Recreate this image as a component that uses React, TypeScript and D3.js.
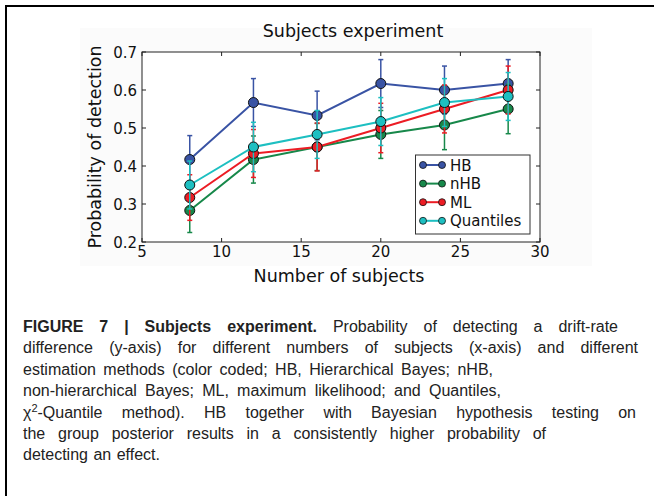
import { useLayoutEffect, useRef } from "react";
import * as d3 from "d3";

const WIDTH = 654;
const HEIGHT = 496;
const PLOT = { left: 142, right: 540, top: 52, bottom: 242 };
const FONT = "'DejaVu Sans', sans-serif";
const CAPTION_X = 23;

const subjects = [8, 12, 16, 20, 24, 28];

const hbMean = [0.417, 0.567, 0.533, 0.617, 0.6, 0.617];
const hbErr = [0.063, 0.063, 0.064, 0.063, 0.063, 0.063];
const nhbMean = [0.283, 0.417, 0.45, 0.483, 0.508, 0.55];
const nhbErr = [0.058, 0.062, 0.062, 0.063, 0.065, 0.065];
const mlMean = [0.317, 0.433, 0.45, 0.5, 0.55, 0.6];
const mlErr = [0.06, 0.063, 0.063, 0.065, 0.063, 0.063];
const quantMean = [0.35, 0.45, 0.483, 0.517, 0.567, 0.583];
const quantErr = [0.063, 0.065, 0.063, 0.063, 0.063, 0.063];

const seriesNames = ["HB", "nHB", "ML", "Quantiles"];
const seriesColors = ["#3953a4", "#17884a", "#ec1c24", "#1dbfc1"];

const xTicks = [5, 10, 15, 20, 25, 30];
const yTicks = [0.2, 0.3, 0.4, 0.5, 0.6, 0.7];

// caption: where each line's right end sits in the reference
const captionEnds = [618, 638, 493, 501, 636, 546, 160];

const series = seriesNames.map((name, i) => ({
  name,
  color: seriesColors[i],
  means: [hbMean, nhbMean, mlMean, quantMean][i],
  errs: [hbErr, nhbErr, mlErr, quantErr][i],
}));

export default function App() {
  const captionRef = useRef<SVGGElement>(null);

  const x = d3.scaleLinear().domain([5, 30]).range([PLOT.left, PLOT.right]);
  const y = d3.scaleLinear().domain([0.2, 0.7]).range([PLOT.bottom, PLOT.top]);

  const line = d3
    .line<number>()
    .x((_, i) => x(subjects[i]))
    .y((d) => y(d));

  // spread words so each caption line ends where it does in the figure
  useLayoutEffect(() => {
    const g = captionRef.current;
    if (!g) return;
    g.querySelectorAll("text").forEach((t, i) => {
      t.style.wordSpacing = "0px";
      const natural = t.getComputedTextLength();
      const spaces = (t.textContent ?? "").split(" ").length - 1;
      if (spaces > 0) {
        const extra = (captionEnds[i] - CAPTION_X - natural) / spaces;
        t.style.wordSpacing = `${Math.max(0, extra)}px`;
      }
    });
  }, []);

  const captionY = (i: number) => 332 + i * 21.4;
  const captionStyle = {
    fontFamily: "'Liberation Sans', Arial, sans-serif",
    fontSize: 16,
    fill: "#222",
  };

  const legend = { x: 415.5, y: 155, w: 114.5, h: 79 };

  return (
    <svg
      width={WIDTH}
      height={HEIGHT}
      style={{ position: "absolute", left: 0, top: 0, background: "white" }}
    >
      {/* figure frame */}
      <line x1={5} x2={WIDTH} y1={6} y2={6} stroke="#000" strokeWidth={2} />
      <line x1={6} x2={6} y1={5} y2={HEIGHT} stroke="#000" strokeWidth={2} />

      {/* chart image background */}
      <rect x={80} y={28} width={512} height={238} fill="#fbfbfb" />

      <text
        x={353}
        y={36.5}
        textAnchor="middle"
        style={{ fontFamily: FONT, fontSize: 17.5, fill: "#111" }}
      >
        Subjects experiment
      </text>

      <rect
        x={PLOT.left}
        y={PLOT.top}
        width={PLOT.right - PLOT.left}
        height={PLOT.bottom - PLOT.top}
        fill="white"
      />

      {/* ticks on all four sides, pointing in */}
      {xTicks.map((t) => (
        <g key={`xt${t}`} stroke="#222" strokeWidth={1}>
          <line x1={x(t)} x2={x(t)} y1={PLOT.bottom} y2={PLOT.bottom - 4} />
          <line x1={x(t)} x2={x(t)} y1={PLOT.top} y2={PLOT.top + 4} />
        </g>
      ))}
      {yTicks.map((t) => (
        <g key={`yt${t}`} stroke="#222" strokeWidth={1}>
          <line x1={PLOT.left} x2={PLOT.left + 4} y1={y(t)} y2={y(t)} />
          <line x1={PLOT.right} x2={PLOT.right - 4} y1={y(t)} y2={y(t)} />
        </g>
      ))}

      {xTicks.map((t) => (
        <text
          key={`xl${t}`}
          x={x(t)}
          y={257}
          textAnchor="middle"
          style={{ fontFamily: FONT, fontSize: 15, fill: "#111" }}
        >
          {t}
        </text>
      ))}
      {yTicks.map((t) => (
        <text
          key={`yl${t}`}
          x={137}
          y={y(t) + 5.5}
          textAnchor="end"
          style={{ fontFamily: FONT, fontSize: 15, fill: "#111" }}
        >
          {t.toFixed(1)}
        </text>
      ))}

      <text
        x={339}
        y={281.5}
        textAnchor="middle"
        style={{ fontFamily: FONT, fontSize: 17.5, fill: "#111" }}
      >
        Number of subjects
      </text>
      <text
        transform={`translate(101,147) rotate(-90)`}
        textAnchor="middle"
        style={{ fontFamily: FONT, fontSize: 17.5, fill: "#111" }}
      >
        Probability of detection
      </text>

      {/* series: error bars, line, markers */}
      {series.map((s) => (
        <g key={s.name}>
          {s.means.map((m, i) => {
            const cx = x(subjects[i]);
            const lo = y(m - s.errs[i]);
            const hi = y(m + s.errs[i]);
            return (
              <g key={i} stroke={s.color} strokeWidth={1.5}>
                <line x1={cx} x2={cx} y1={lo} y2={hi} />
                <line x1={cx - 2.5} x2={cx + 2.5} y1={lo} y2={lo} />
                <line x1={cx - 2.5} x2={cx + 2.5} y1={hi} y2={hi} />
              </g>
            );
          })}
          <path d={line(s.means) ?? ""} fill="none" stroke={s.color} strokeWidth={2} />
          {s.means.map((m, i) => (
            <circle
              key={i}
              cx={x(subjects[i])}
              cy={y(m)}
              r={5}
              fill={s.color}
              stroke="#111"
              strokeWidth={1}
            />
          ))}
        </g>
      ))}

      <rect
        x={PLOT.left}
        y={PLOT.top}
        width={PLOT.right - PLOT.left}
        height={PLOT.bottom - PLOT.top}
        fill="none"
        stroke="#222"
        strokeWidth={1}
      />

      {/* legend */}
      <rect
        x={legend.x}
        y={legend.y}
        width={legend.w}
        height={legend.h}
        fill="white"
        stroke="#333"
        strokeWidth={1}
      />
      {series.map((s, i) => {
        const ly = 165 + i * 18.6;
        return (
          <g key={`lg${s.name}`}>
            <line x1={423} x2={442} y1={ly} y2={ly} stroke={s.color} strokeWidth={2} />
            <circle cx={423} cy={ly} r={3.5} fill={s.color} stroke="#111" strokeWidth={0.8} />
            <circle cx={442} cy={ly} r={3.5} fill={s.color} stroke="#111" strokeWidth={0.8} />
            <text
              x={450}
              y={ly + 5.5}
              style={{ fontFamily: FONT, fontSize: 15, fill: "#111" }}
            >
              {s.name}
            </text>
          </g>
        );
      })}

      {/* caption */}
      <g ref={captionRef} style={captionStyle}>
        <text x={CAPTION_X} y={captionY(0)}>
          <tspan fontWeight="bold">FIGURE 7 | Subjects experiment.</tspan>
          <tspan> Probability of detecting a drift-rate</tspan>
        </text>
        <text x={CAPTION_X} y={captionY(1)}>
          difference (y-axis) for different numbers of subjects (x-axis) and different
        </text>
        <text x={CAPTION_X} y={captionY(2)}>
          estimation methods (color coded; HB, Hierarchical Bayes; nHB,
        </text>
        <text x={CAPTION_X} y={captionY(3)}>
          non-hierarchical Bayes; ML, maximum likelihood; and Quantiles,
        </text>
        <text x={CAPTION_X} y={captionY(4)}>
          <tspan>χ</tspan>
          <tspan dy={-6} fontSize={11}>2</tspan>
          <tspan dy={6}>-Quantile method). HB together with Bayesian hypothesis testing on</tspan>
        </text>
        <text x={CAPTION_X} y={captionY(5)}>
          the group posterior results in a consistently higher probability of
        </text>
        <text x={CAPTION_X} y={captionY(6)}>
          detecting an effect.
        </text>
      </g>
    </svg>
  );
}
